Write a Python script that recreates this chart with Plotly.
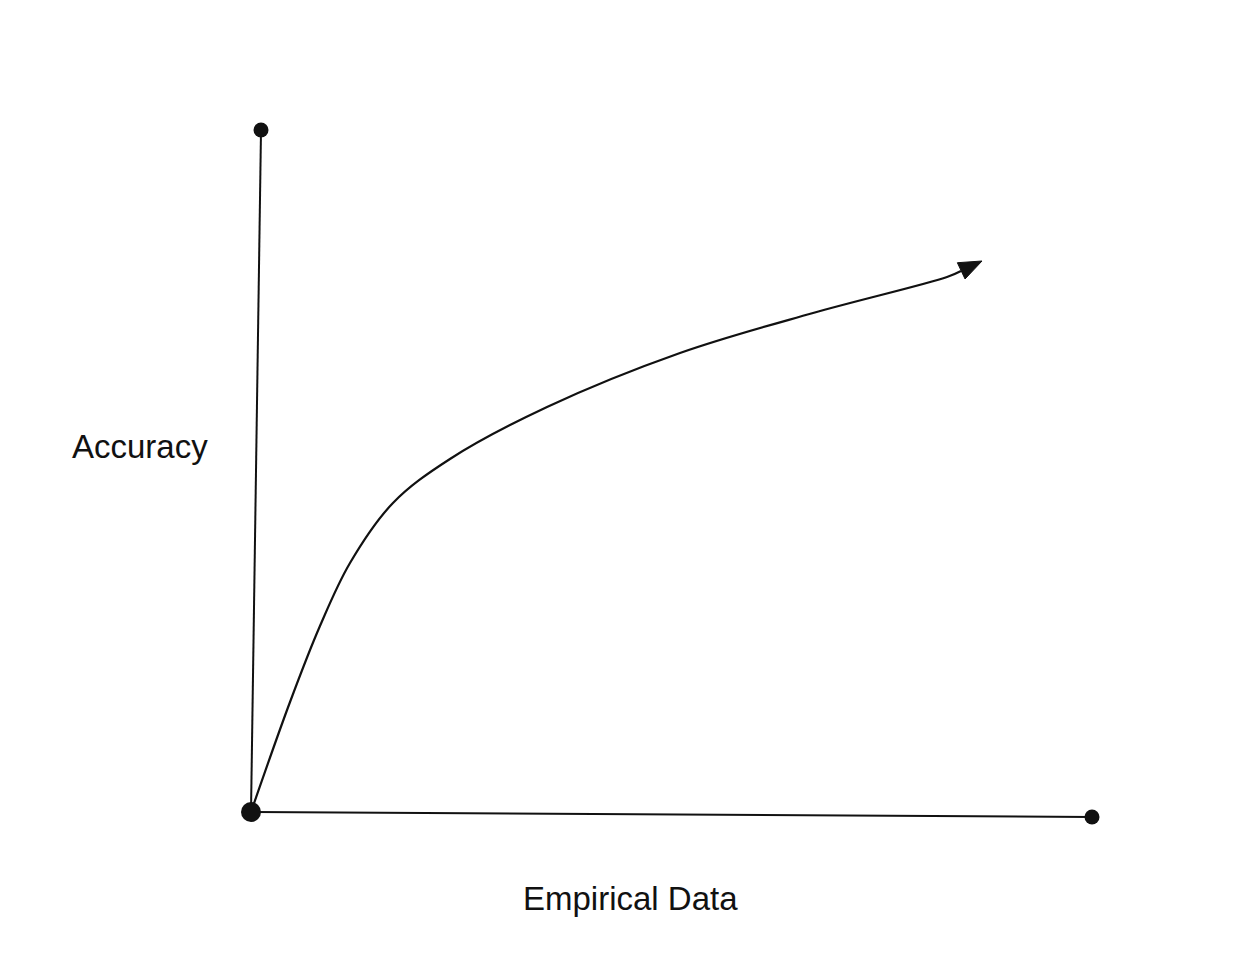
import numpy as np
import plotly.graph_objects as go

# ---- data (conceptual units: origin = 0, axis ends = 100) ----
curve_x = [0.0, 4.64, 8.20, 11.77, 16.88, 23.66, 35.20, 51.01, 66.83, 82.76, 84.42, 86.92]
curve_y = [0.0, 16.13, 27.27, 36.51, 45.31, 51.76, 59.38, 67.30, 73.17, 78.45, 79.33, 80.79]

origin = (0.0, 0.0)
y_axis_end = (1.19, 100.0)
x_axis_end = (100.0, -0.73)

x_label = "Empirical Data"
y_label = "Accuracy"

# ---- layout / scale ----
W, H = 1244, 964
M = 8                            # page body margin
PX_X, PX_Y = 8.41, 6.82          # pixels per data unit
OX, OY = 251, 812                # origin in page pixels
xr0 = -(OX - M) / PX_X
xr = [xr0, xr0 + W / PX_X]
yr1 = (OY - M) / PX_Y
yr = [yr1 - H / PX_Y, yr1]

def to_px(x, y):
    return OX + x * PX_X, OY - y * PX_Y

def to_data(px, py):
    return (px - OX) / PX_X, (OY - py) / PX_Y

ink = "#111111"
fig = go.Figure()

# axes lines
fig.add_trace(go.Scatter(x=[origin[0], y_axis_end[0]], y=[origin[1], y_axis_end[1]],
                         mode="lines", line=dict(color=ink, width=2), hoverinfo="skip"))
fig.add_trace(go.Scatter(x=[origin[0], x_axis_end[0]], y=[origin[1], x_axis_end[1]],
                         mode="lines", line=dict(color=ink, width=2), hoverinfo="skip"))

# curve
fig.add_trace(go.Scatter(x=curve_x[:-1], y=curve_y[:-1], mode="lines",
                         line=dict(color=ink, width=2.2, shape="spline", smoothing=1.0),
                         hoverinfo="skip"))

# arrowhead derived from the last two curve points
tx, ty = to_px(curve_x[-1], curve_y[-1])
bx, by = to_px(curve_x[-2], curve_y[-2])
d = np.array([tx - bx, ty - by]); d = d / np.linalg.norm(d)
perp = np.array([-d[1], d[0]])
L, hw = 23, 9
base = np.array([tx, ty]) - L * d
c1 = base + hw * perp
c2 = base - hw * perp
tri_px = [(tx, ty), tuple(c1), tuple(c2), (tx, ty)]
tri = [to_data(*p) for p in tri_px]
fig.add_trace(go.Scatter(x=[p[0] for p in tri], y=[p[1] for p in tri], mode="lines",
                         fill="toself", fillcolor=ink, line=dict(color=ink, width=1),
                         hoverinfo="skip"))

# end dots
fig.add_trace(go.Scatter(x=[y_axis_end[0], x_axis_end[0]], y=[y_axis_end[1], x_axis_end[1]],
                         mode="markers", marker=dict(color=ink, size=15), hoverinfo="skip"))
fig.add_trace(go.Scatter(x=[origin[0]], y=[origin[1]], mode="markers",
                         marker=dict(color=ink, size=20), hoverinfo="skip"))

font = dict(family="Liberation Sans, Arial, Helvetica, sans-serif", size=33, color=ink)
lx, ly = to_data(140, 446)
fig.add_annotation(x=lx, y=ly, text=y_label, showarrow=False, font=font,
                   xanchor="center", yanchor="middle")
ex, ey = to_data(630, 898)
fig.add_annotation(x=ex, y=ey, text=x_label, showarrow=False, font=font,
                   xanchor="center", yanchor="middle")

fig.update_layout(width=W, height=H, margin=dict(l=0, r=0, t=0, b=0),
                  paper_bgcolor="white", plot_bgcolor="white", showlegend=False)
fig.update_xaxes(range=xr, visible=False, fixedrange=True)
fig.update_yaxes(range=yr, visible=False, fixedrange=True)

fig.write_html("out.html")
